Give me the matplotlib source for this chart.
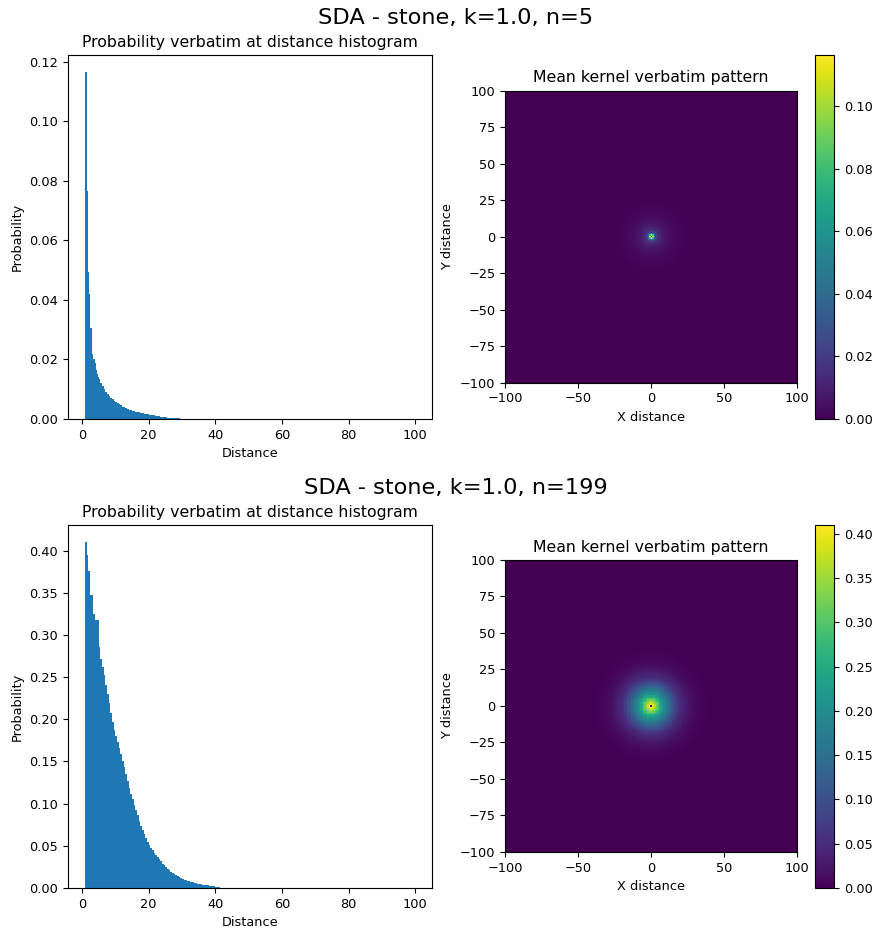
import matplotlib
matplotlib.use("Agg")
import matplotlib.pyplot as plt
import numpy as np

plt.rcParams['font.size'] = 9.3
plt.rcParams['axes.titlesize'] = 11.3

# histogram bins (distance edges) and probability per bin
edges_n5 = ([0.75, 1.35, 1.8, 2.15, 2.5, 2.9, 3.1, 3.4, 3.8, 4.1, 4.4, 4.7, 5.0]
            + [5.0 + 0.5 * i for i in range(1, 51)] + [100])
prob_n5 = [0.1164, 0.0766, 0.0494, 0.0419, 0.0305, 0.0266, 0.0220, 0.0200, 0.0188, 0.0165, 0.0150, 0.0140,
           0.0133, 0.0122, 0.0112, 0.0100, 0.0092, 0.0085, 0.0078, 0.0072, 0.0067, 0.0062,
           0.0058, 0.0054, 0.0050, 0.0046, 0.0042, 0.0039, 0.0036, 0.0034, 0.0032, 0.0030,
           0.0028, 0.0026, 0.0025, 0.0023, 0.0022, 0.0021, 0.0019, 0.0018, 0.0017, 0.0016,
           0.0015, 0.0014, 0.0013, 0.0012, 0.0011, 0.0010, 0.0009, 0.0008, 0.0007, 0.0007,
           0.0006, 0.0005, 0.0005, 0.0004, 0.0004, 0.0003, 0.0003, 0.0002, 0.0002, 0.0001,
           0.0]

edges_n199 = ([0.75, 1.4, 1.8, 2.4, 3.4, 4.0, 5.0]
              + [5.0 + 0.5 * i for i in range(1, 75)] + [100])
prob_n199 = [0.4099, 0.3945, 0.3755, 0.347, 0.325, 0.318,
             0.286, 0.272, 0.262, 0.252, 0.241, 0.230, 0.219, 0.208, 0.197, 0.187,
             0.180, 0.173, 0.166, 0.159, 0.151, 0.143, 0.135, 0.127, 0.119, 0.112,
             0.105, 0.098, 0.092, 0.086, 0.080, 0.074, 0.069, 0.064, 0.059, 0.055,
             0.051, 0.048, 0.045, 0.042, 0.039, 0.037, 0.034, 0.032, 0.029, 0.027,
             0.025, 0.023, 0.021, 0.019, 0.018, 0.016, 0.015, 0.014, 0.013, 0.012,
             0.011, 0.010, 0.0093, 0.0086, 0.0079, 0.0072, 0.0066, 0.0060, 0.0055, 0.0050,
             0.0046, 0.0042, 0.0039, 0.0036, 0.0033, 0.0030, 0.0027, 0.0025, 0.0023, 0.0020,
             0.0016, 0.0012, 0.0008, 0.0004,
             0.0]

titles = ["SDA - stone, k=1.0, n=5", "SDA - stone, k=1.0, n=199"]


def kernel_from_bins(edges, probs, half=100):
    # each cell takes the probability of the distance bin it falls in
    xs = np.arange(-half, half + 1)
    xx, yy = np.meshgrid(xs, xs)
    d = np.sqrt(xx ** 2 + yy ** 2)
    idx = np.digitize(d, edges) - 1
    vals = np.append(np.array(probs), 0.0)
    idx[(idx < 0) | (idx >= len(probs))] = len(probs)
    return vals[idx]


fig = plt.figure(figsize=(8.78, 9.31), dpi=100)

rows = [
    (edges_n5, prob_n5, 0.5499, 0.3910, 0.5886, 0.3147, 0.981),
    (edges_n199, prob_n199, 0.0462, 0.3899, 0.0849, 0.3136, 0.476),
]

for (edges, probs, hb, hh, ib, ih, ty), title in zip(rows, titles):
    ax = fig.add_axes([0.0774, hb, 0.4146, hh])
    ax.stairs(probs, edges, fill=True, facecolor='#1f77b4', edgecolor='none', linewidth=0)
    ax.set_title("Probability verbatim at distance histogram")
    ax.set_xlabel("Distance")
    ax.set_ylabel("Probability")

    kern = kernel_from_bins(edges, probs)
    axi = fig.add_axes([0.5752, ib, 0.3326, ih])
    im = axi.imshow(kern, cmap='viridis', origin='lower', extent=[-100, 100, -100, 100],
                    interpolation='nearest')
    axi.set_yticks(np.arange(-100, 101, 25))
    axi.set_xticks(np.arange(-100, 101, 50))
    axi.set_title("Mean kernel verbatim pattern")
    axi.set_xlabel("X distance")
    axi.set_ylabel("Y distance")
    cax = fig.add_axes([0.9282, hb, 0.0216, hh])
    fig.colorbar(im, cax=cax)

    fig.text(0.519, ty, title, ha='center', va='center', fontsize=16.2)

fig.savefig("out.png", dpi=100)
